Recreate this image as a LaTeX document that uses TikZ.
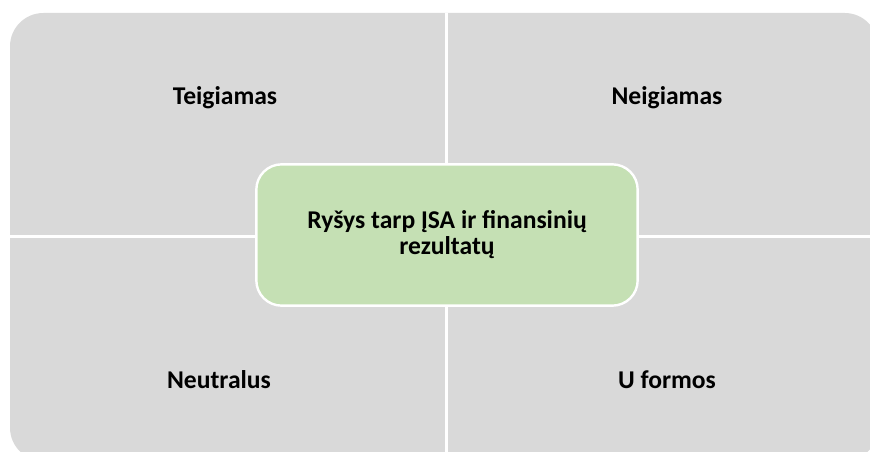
\documentclass[tikz,border=0pt]{standalone}
\usepackage{fontspec}
\setmainfont{Carlito}
\usepackage{tikz}
\definecolor{quadgrey}{HTML}{D9D9D9}
\definecolor{centregreen}{HTML}{C5E0B4}
\tikzset{
  quadlabel/.style={font=\fontsize{19.2}{19.5}\selectfont\bfseries},
  centrebox/.style={draw=white,line width=1.8pt,fill=centregreen,rounded corners=19pt,
    minimum width=286pt,minimum height=106pt,align=center,
    font=\fontsize{19.2}{19.5}\selectfont\bfseries}
}

\begin{document}
\begin{tikzpicture}[x=0.75pt,y=-0.75pt]
      \useasboundingbox (0,0) rectangle (870,452);
      \clip (0,0) rectangle (870,452);
      \coordinate (O) at (446.5,236.5);
      \fill[quadgrey,rounded corners=25pt] (10,13) rectangle (878,461);
      \draw[white,line width=2.4pt] (O |- 0,13) -- (O |- 0,461);
      \draw[white,line width=2.4pt] (O -| 10,0) -- (O -| 878,0);
      \node[quadlabel] (pos) at (225,98) {Teigiamas};
      \node[quadlabel] (neg) at (667,98) {Neigiamas};
      \node[quadlabel] (neu) at (219,380) {Neutralus};
      \node[quadlabel] (ush) at (667,380) {U formos};
      \node[centrebox] (rel) at (447,235)
           {Ryšys tarp ĮSA ir finansinių\\rezultatų};
    \end{tikzpicture}
\end{document}
